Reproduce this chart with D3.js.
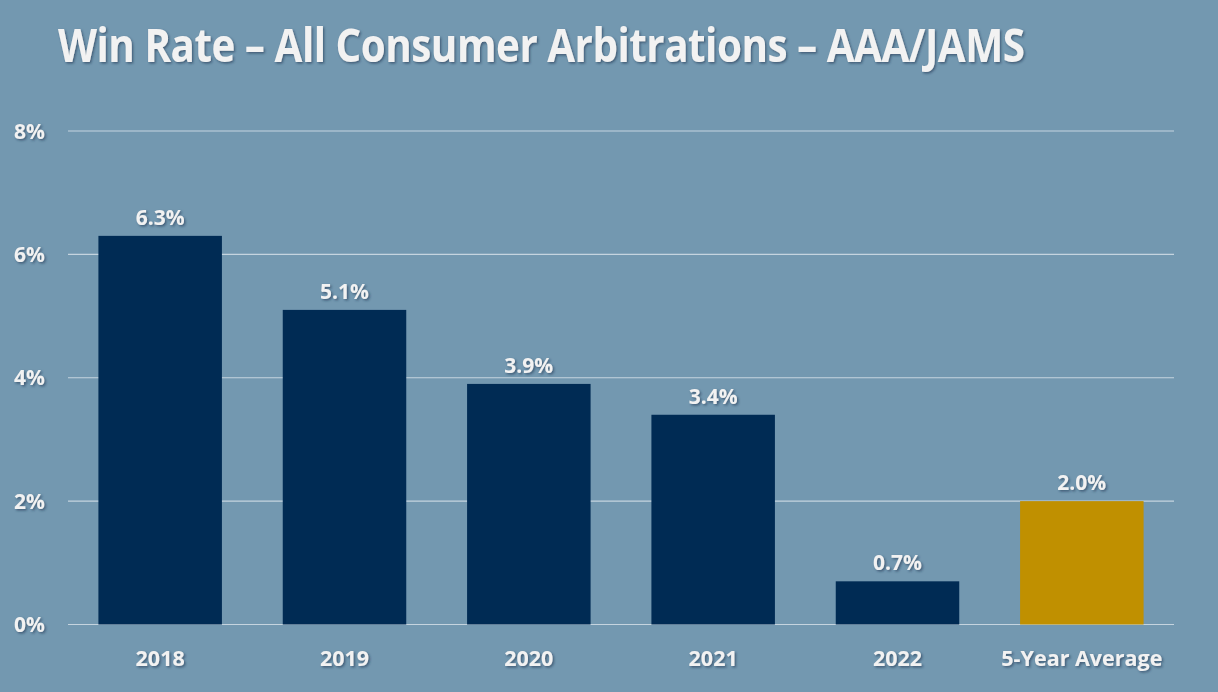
<!DOCTYPE html>
<html>
<head>
<meta charset="utf-8">
<script src="https://cdn.jsdelivr.net/npm/d3@7"></script>
<style>
  html, body { margin: 0; padding: 0; background: #7398b0; }
  svg { display: block; }
  text { font-family: "Open Sans", "Noto Sans", sans-serif; font-weight: 700; fill: #f2f2f2; }
</style>
</head>
<body>
<svg id="chart" width="1218" height="692"></svg>
<script>
const categories = ['2018', '2019', '2020', '2021', '2022', '5-Year Average'];
const winRates = [6.3, 5.1, 3.9, 3.4, 0.7, 2.0];
const barColors = ['#002b54', '#002b54', '#002b54', '#002b54', '#002b54', '#c09000'];
const yTicks = [0, 2, 4, 6, 8];

const width = 1218;
const height = 692;
const margin = { top: 131, right: 44, bottom: 68, left: 68 };

const svg = d3.select('#chart');

svg.append('rect')
  .attr('width', width)
  .attr('height', height)
  .attr('fill', '#7398b0');

// soft shadow used on all text
const defs = svg.append('defs');
const shadow = defs.append('filter').attr('id', 'shadow')
  .attr('x', '-20%').attr('y', '-50%').attr('width', '140%').attr('height', '200%');
shadow.append('feDropShadow')
  .attr('dx', 1.5).attr('dy', 1.5).attr('stdDeviation', 1)
  .attr('flood-color', '#1d3550').attr('flood-opacity', 0.6);

const x = d3.scaleBand()
  .domain(categories)
  .range([margin.left, width - margin.right])
  .paddingInner(0.33)
  .paddingOuter(0.165);

const y = d3.scaleLinear()
  .domain([0, 8])
  .range([height - margin.bottom + 0.5, margin.top]);

// gridlines
svg.append('g')
  .selectAll('line')
  .data(yTicks)
  .enter().append('line')
  .attr('x1', margin.left)
  .attr('x2', width - margin.right)
  .attr('y1', d => y(d))
  .attr('y2', d => y(d))
  .attr('stroke', '#c5d4df')
  .attr('stroke-width', 1.2);

// y tick labels
svg.append('g')
  .selectAll('text')
  .data(yTicks)
  .enter().append('text')
  .attr('x', 14)
  .attr('y', d => y(d) + 7.5)
  .attr('font-size', 21)
  .attr('filter', 'url(#shadow)')
  .text(d => d + '%');

// bars
svg.append('g')
  .selectAll('rect')
  .data(winRates)
  .enter().append('rect')
  .attr('x', (d, i) => x(categories[i]))
  .attr('y', d => y(d))
  .attr('width', x.bandwidth())
  .attr('height', d => y(0) - y(d))
  .attr('fill', (d, i) => barColors[i]);

// value labels
svg.append('g')
  .selectAll('text')
  .data(winRates)
  .enter().append('text')
  .attr('x', (d, i) => x(categories[i]) + x.bandwidth() / 2)
  .attr('y', d => y(d) - 11)
  .attr('text-anchor', 'middle')
  .attr('font-size', 21)
  .attr('filter', 'url(#shadow)')
  .text(d => d.toFixed(1) + '%');

// category labels
svg.append('g')
  .selectAll('text')
  .data(categories)
  .enter().append('text')
  .attr('x', d => x(d) + x.bandwidth() / 2)
  .attr('y', 666)
  .attr('text-anchor', 'middle')
  .attr('font-size', 21.5)
  .attr('filter', 'url(#shadow)')
  .text(d => d);

// title (squeezed horizontally to match the condensed original face)
svg.append('g')
  .attr('transform', 'translate(58,62) scale(0.86,1)')
  .append('text')
  .attr('x', 0)
  .attr('y', 0)
  .attr('font-size', 47)
  .attr('filter', 'url(#shadow)')
  .style('letter-spacing', '-0.6px')
  .text('Win Rate – All Consumer Arbitrations – AAA/JAMS');
</script>
</body>
</html>
